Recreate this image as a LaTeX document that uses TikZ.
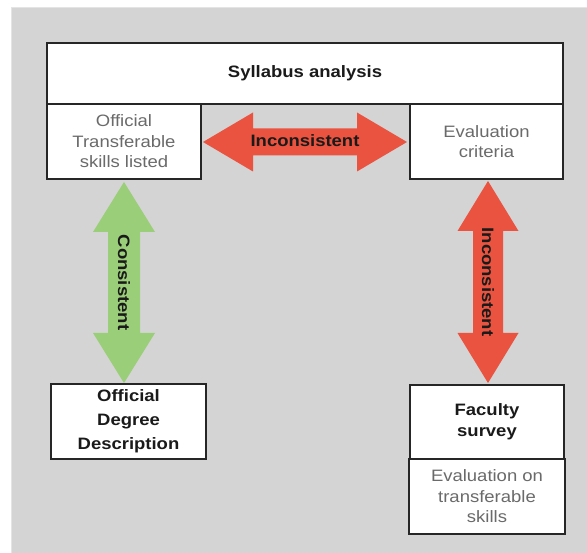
\documentclass[tikz,border=0pt]{standalone}
\usepackage{fontspec}
\setmainfont{Liberation Sans}[FakeStretch=1.12]
\usetikzlibrary{calc}
\definecolor{bggray}{HTML}{D4D4D4}
\definecolor{bgedge}{HTML}{E4E4E4}
\definecolor{arrred}{HTML}{E9533F}
\definecolor{arrgreen}{HTML}{9BCE79}
\definecolor{txtgray}{HTML}{6A6A6A}
\definecolor{txtdark}{HTML}{1A1A1A}
\newcommand{\fatarrow}[6]{%
  \coordinate (P1) at ($(#2)!#4!(#3)$);
  \coordinate (P2) at ($(#3)!#4!(#2)$);
  \fill[#1] (#2) -- ($(P1)!#5!90:(#3)$) -- ($(P1)!#6!90:(#3)$)
    -- ($(P2)!#6!-90:(#2)$) -- ($(P2)!#5!-90:(#2)$) -- (#3)
    -- ($(P2)!#5!90:(#2)$) -- ($(P2)!#6!90:(#2)$)
    -- ($(P1)!#6!-90:(#3)$) -- ($(P1)!#5!-90:(#3)$) -- cycle;}
\begin{document}
\begin{tikzpicture}[x=1pt,y=-1pt,
  box/.style={draw=black!85,line width=1.6pt,fill=white,rectangle,inner sep=0pt,outer sep=0pt,align=center},
  plain/.style={text=txtgray,font=\fontsize{16.5}{20.5}\selectfont},
  heading/.style={text=txtdark,font=\fontsize{16.5}{21}\selectfont\bfseries},
  arrlabel/.style={text=txtdark,font=\fontsize{16.5}{20}\selectfont\bfseries,inner sep=0pt}]
\useasboundingbox (0,0) rectangle (587,553);
\fill[white] (0,0) rectangle (587,553);
\fill[bggray] (11,7) rectangle (587,553);
\draw[bgedge,line width=1pt] (11.5,553) -- (11.5,7.5) -- (587,7.5);
% boxes
\node[box,heading,minimum width=516pt,minimum height=61pt] (syl) at (305,73.5) {Syllabus analysis};
\node[box,plain,minimum width=154pt,minimum height=75pt] (ots) at (124,141.5) {Official\\Transferable\\skills listed};
\node[box,plain,minimum width=153pt,minimum height=75pt] (evc) at (486.5,141.5) {Evaluation\\criteria};
\node[box,heading,font=\fontsize{16.5}{24}\selectfont\bfseries,minimum width=155pt,minimum height=75pt] (odd) at (128.5,421.5) {Official\\Degree\\Description};
\node[box,heading,minimum width=154pt,minimum height=74pt] (fac) at (487,422) {Faculty\\survey};
\node[box,plain,minimum width=156pt,minimum height=75pt] (evs) at (487,496.5) {Evaluation on\\transferable\\skills};
% arrow end points
\coordinate (hA) at ($(ots.east)+(2,0.5)$);
\coordinate (hB) at ($(evc.west)+(-3,0.5)$);
\coordinate (gA) at ($(ots.south)+(0,3)$);
\coordinate (gB) at ($(ots.south |- odd.north)+(0,-1)$);
\coordinate (rA) at ($(evc.south)+(1.5,2)$);
\coordinate (rB) at ($(evc.south |- fac.north)+(1.5,-2)$);
\fatarrow{arrred}{hA}{hB}{50pt}{29.5pt}{13.5pt}
\fatarrow{arrgreen}{gA}{gB}{50pt}{31pt}{16pt}
\fatarrow{arrred}{rA}{rB}{50pt}{30.5pt}{15pt}
\node[arrlabel] (lh) at ($(hA)!0.5!(hB)+(0,-1)$) {Inconsistent};
\node[arrlabel,rotate=-90] (lg) at ($(gA)!0.5!(gB)$) {Consistent};
\node[arrlabel,rotate=-90] (lr) at ($(rA)!0.5!(rB)$) {Inconsistent};
\end{tikzpicture}
\end{document}
